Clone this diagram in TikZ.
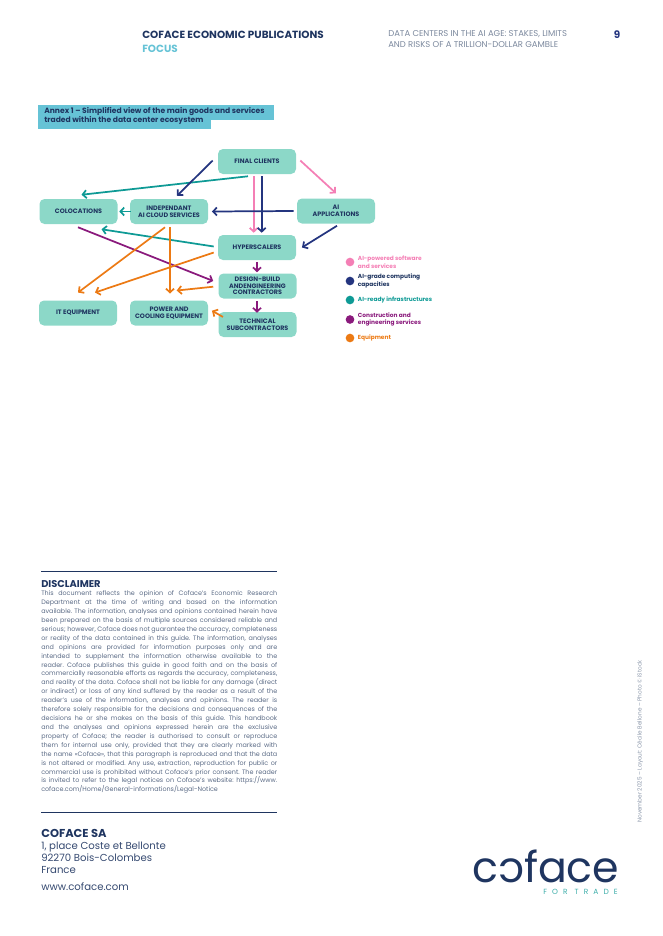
\documentclass[tikz,border=0pt]{standalone}
\usepackage{fontspec}
\setmainfont{Poppins}
\usetikzlibrary{arrows.meta, positioning}
\definecolor{cfnavy}{HTML}{1F3560}
\definecolor{cfgrey}{HTML}{5A6A85}
\definecolor{cfbox}{HTML}{8CD8C8}
\definecolor{cfbanner}{HTML}{66C3D6}
\definecolor{cfpink}{HTML}{F47FB5}
\definecolor{cfblue}{HTML}{24357F}
\definecolor{cfteal}{HTML}{0E9A95}
\definecolor{cfpurple}{HTML}{8A1A7C}
\definecolor{cforange}{HTML}{EC7A14}
\begin{document}
\frenchspacing
\begin{tikzpicture}[
	x=0.75pt, y=-0.75pt,
	box/.style={fill=cfbox, rounded corners=3.75pt, minimum width=58.5pt, minimum height=18.75pt, inner sep=0pt, align=center, text=cfnavy, font=\fontsize{4.8}{5}\bfseries\selectfont},
	flow/.style={line width=1.3pt, -{Straight Barb[length=2.8pt, width=6pt]}},
	dot/.style={circle, fill=#1, minimum size=6.5pt, inner sep=0pt},
	key/.style={right=2.3pt of #1, inner sep=0pt, align=left, font=\fontsize{4.4}{4.6}\bfseries\selectfont},
	plain/.style={anchor=west, inner sep=0pt, align=left},
	rule/.style={line width=0.7pt, cfnavy}
	]
	\useasboundingbox (0,0) rectangle (662,936);
	% header
	\node[plain, text=cfnavy, font=\fontsize{7.8}{9}\bfseries\selectfont] (series) at (142,35) {COFACE ECONOMIC PUBLICATIONS};
	\node[plain, text=cfbanner, font=\fontsize{7.8}{9}\bfseries\selectfont] (focus) at (142,49) {FOCUS};
	\node[plain, text=cfgrey!80, font=\fontsize{6.35}{8.2}\selectfont] (title) at (388,39.5) {DATA CENTERS IN THE AI AGE: STAKES, LIMITS\\AND RISKS OF A TRILLION-DOLLAR GAMBLE};
	\node[text=cfblue, inner sep=0pt, font=\fontsize{7.8}{9}\bfseries\selectfont] (page) at (617,35) {9};

	% banner
	\fill[cfbanner] (38,105) rectangle (274,120);
	\fill[cfbanner] (38,120) rectangle (211,129);
	\node[plain, text=cfnavy, font=\fontsize{5.7}{6.75}\bfseries\selectfont] (banner) at (44,116) {Annex 1 -- Simplified view of the main goods and services\\traded within the data center ecosystem};

	% boxes
	\node[box] (final) at (257,161.5) {FINAL CLIENTS};
	\node[box] (coloc) at (78.5,211.5) {COLOCATIONS};
	\node[box] (indep) at (169,211.5) {INDEPENDANT\\AI CLOUD SERVICES};
	\node[box] (apps) at (336,211) {AI\\APPLICATIONS};
	\node[box] (hyper) at (257,247.5) {HYPERSCALERS};
	\node[box] (design) at (257.5,286) {DESIGN-BUILD\\ANDENGINEERING\\CONTRACTORS};
	\node[box] (itequip) at (78,313) {IT EQUIPMENT};
	\node[box] (power) at (169,313) {POWER AND\\COOLING EQUIPMENT};
	\node[box] (tech) at (257.5,324.5) {TECHNICAL\\SUBCONTRACTORS};

	% arrows
	\draw[flow, cfteal] ([shift={(-9,2)}]final.south) -- ([shift={(3,-4)}]coloc.north);
	\draw[flow, cfblue] ([shift={(-5,-1)}]final.west) -- ([shift={(8,-3)}]indep.north);
	\draw[flow, cfpink] ([shift={(4,-1)}]final.east) -- ([shift={(0,-5)}]apps.north);
	\draw[flow, cfpink] ([shift={(-3.3,2)}]final.south) -- ([shift={(-3.3,-2)}]hyper.north);
	\draw[flow, cfblue] ([shift={(4.7,2)}]final.south) -- ([shift={(4.7,-2)}]hyper.north);
	\draw[flow, cfblue] ([shift={(-3,0)}]apps.west) -- ([shift={(3.7,0)}]indep.east);
	\draw[flow, cfteal] ([shift={(1,0)}]indep.west) -- ([shift={(1.5,0)}]coloc.east);
	\draw[flow, cfblue] ([shift={(1,2)}]apps.south) -- ([shift={(5.7,0)}]hyper.east);
	\draw[flow, cfteal] ([shift={(-4,-1)}]hyper.west) -- ([shift={(23,5)}]coloc.south);
	\draw[flow, cfpurple] ([shift={(-0.5,3)}]coloc.south) -- ([shift={(-5,-5)}]design.west);
	\draw[flow, cforange] ([shift={(-4,3)}]indep.south) -- ([shift={(0,-7.7)}]itequip.north);
	\draw[flow, cforange] ([shift={(1,3)}]indep.south) -- ([shift={(1,-6.7)}]power.north);
	\draw[flow, cforange] ([shift={(-4,5)}]hyper.west) -- ([shift={(17,-7.7)}]itequip.north);
	\draw[flow, cforange] ([shift={(-5,0.7)}]design.west) -- ([shift={(7.7,-9.7)}]power.north);
	\draw[flow, cforange] ([shift={(4.7,5.2)}]tech.north west) -- ([shift={(3.7,-2.3)}]power.east);
	\draw[flow, cfpurple] ([shift={(0,1.7)}]hyper.south) -- ([shift={(-0.5,-1)}]design.north);
	\draw[flow, cfpurple] ([shift={(-0.5,2.3)}]design.south) -- ([shift={(-0.5,1)}]tech.north);

	% legend
	\node[dot=cfpink] (dot1) at (350,262) {};
	\node[dot=cfblue] (dot2) at (350,281) {};
	\node[dot=cfteal] (dot3) at (350,300) {};
	\node[dot=cfpurple] (dot4) at (350,319.5) {};
	\node[dot=cforange] (dot5) at (350,338) {};
	\node[key=dot1, text=cfpink] (key1) {AI-powered software\\and services};
	\node[key=dot2, text=cfnavy] (key2) {AI-grade computing\\capacities};
	\node[key=dot3, text=cfteal] (key3) {AI-ready infrastructures};
	\node[key=dot4, text=cfpurple] (key4) {Construction and\\engineering services};
	\node[key=dot5, text=cforange] (key5) {Equipment};

	% disclaimer
	\draw[rule] (41,571.5) -- (277,571.5);
	\node[plain, text=cfnavy, font=\fontsize{7.4}{8}\bfseries\selectfont] (disctitle) at (41,584) {DISCLAIMER};
	\node[anchor=north west, inner sep=0pt, text width=177pt, align=justify, text=cfgrey, font=\fontsize{4.8}{6.69}\selectfont] (disclaimer) at (41,590.5) {This document reflects the opinion of Coface's Economic Research\linebreak
	Department at the time of writing and based on the information\linebreak
	available. The information, analyses and opinions contained herein have\linebreak
	been prepared on the basis of multiple sources considered reliable and\linebreak
	serious; however, Coface does not guarantee the accuracy, completeness\linebreak
	or reality of the data contained in this guide. The information, analyses\linebreak
	and opinions are provided for information purposes only and are\linebreak
	intended to supplement the information otherwise available to the\linebreak
	reader. Coface publishes this guide in good faith and on the basis of\linebreak
	commercially reasonable efforts as regards the accuracy, completeness,\linebreak
	and reality of the data. Coface shall not be liable for any damage (direct\linebreak
	or indirect) or loss of any kind suffered by the reader as a result of the\linebreak
	reader's use of the information, analyses and opinions. The reader is\linebreak
	therefore solely responsible for the decisions and consequences of the\linebreak
	decisions he or she makes on the basis of this guide. This handbook\linebreak
	and the analyses and opinions expressed herein are the exclusive\linebreak
	property of Coface; the reader is authorised to consult or reproduce\linebreak
	them for internal use only, provided that they are clearly marked with\linebreak
	the name «Coface», that this paragraph is reproduced and that the data\linebreak
	is not altered or modified. Any use, extraction, reproduction for public or\linebreak
	commercial use is prohibited without Coface's prior consent. The reader\linebreak
	is invited to refer to the legal notices on Coface's website: https://www.\linebreak
	coface.com/Home/General-informations/Legal-Notice\par};
	\draw[rule] (41,812) -- (277,812);

	% address
	\node[plain, text=cfnavy, font=\fontsize{8.6}{9}\bfseries\selectfont] (company) at (41,833) {COFACE SA};
	\node[plain, text=cfnavy!90, font=\fontsize{7.6}{9}\selectfont] (address) at (41,857.5) {1, place Coste et Bellonte\\92270 Bois-Colombes\\France};
	\node[plain, text=cfnavy!90, font=\fontsize{7.6}{9}\selectfont] (web) at (41,886.5) {www.coface.com};

	% logo
	\node[anchor=base west, inner sep=0pt, text depth=0pt, text=cfnavy, font=\fontsize{32}{32}\selectfont] (logo) at (472,882.5) {c\reflectbox{c}face};
	\node[anchor=east, inner sep=0pt, text=cfteal!80, font=\fontsize{5.6}{7}\addfontfeature{LetterSpace=68}\selectfont] (trade) at (618,891.5) {FOR TRADE};

	% credit
	\node[rotate=90, inner sep=0pt, text=cfgrey!70, font=\fontsize{4.3}{5}\selectfont] (credit) at (640,741.5) {November 2025 -- Layout: Cécile Bellone -- Photo © iStock};
\end{tikzpicture}
\end{document}
